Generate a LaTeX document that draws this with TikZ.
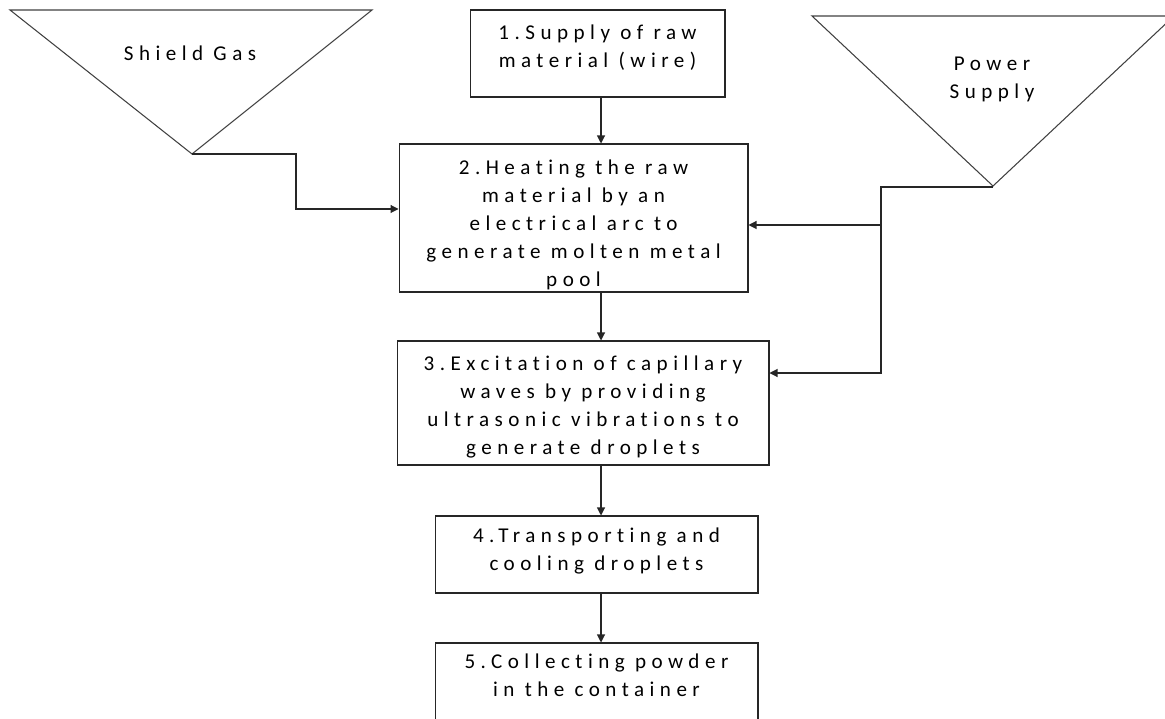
\documentclass[tikz,border=0pt]{standalone}
\usepackage{fontspec}
\newfontfamily\flowfont{Carlito}[LetterSpace=26, Ligatures={NoCommon}]
\usetikzlibrary{arrows.meta}

\begin{document}
\begin{tikzpicture}[
    % Global styles
    x=0.02cm, y=-0.02cm,
    font=\flowfont\fontsize{12}{15.9}\selectfont,
    >={Triangle[length=0.16cm, width=0.16cm]},
    % Box styles
    stepbox/.style={
      rectangle, draw=black!85, line width=0.6pt, inner sep=0pt,
      align=center
    },
    feedshape/.style={draw=black!75, line width=0.6pt, line join=miter},
    arr/.style={->, line width=0.6pt, color=black!85},
  ]
  \useasboundingbox (0,0) rectangle (1165,719);

  % ====================================================================
  % FEEDS — triangles
  % ====================================================================
  \draw[feedshape] (10,10) -- (372,10) -- (192,154) -- cycle;
  \coordinate (sgtip) at (192,154);
  \node (sgtext) at (190,53) {Shield Gas};

  \draw[feedshape] (812,16) -- (1174,16) -- (993,186) -- cycle;
  \coordinate (pstip) at (993,187);
  \node[align=center] (pstext) at (992,79) {Power\\Supply};

  % ====================================================================
  % PROCESS STEPS
  % ====================================================================
  \node[stepbox, minimum width=5.1cm, minimum height=1.74cm, text depth=0.3cm] (b1) at (597.5,53.5) {
    1.Supply of raw\\material (wire)
  };
  \node[stepbox, minimum width=6.98cm, minimum height=2.96cm] (b2) at (573.5,218) {
    \rule{0pt}{16pt}2.Heating the raw\\material by an\\electrical arc to\\generate molten metal\\pool
  };
  \node[stepbox, minimum width=7.44cm, minimum height=2.48cm] (b3) at (583,403) {
    \rule{0pt}{12.5pt}3.Excitation of capillary\\waves by providing\\ultrasonic vibrations to\\generate droplets
  };
  \node[stepbox, minimum width=6.46cm, minimum height=1.54cm, text depth=0.2cm] (b4) at (596.5,554.5) {
    4.Transporting and\\cooling droplets
  };
  \node[stepbox, minimum width=6.46cm, minimum height=1.6cm, text depth=0.3cm] (b5) at (596.5,683) {
    5.Collecting powder\\in the container
  };

  % ------- Arrows -------
  \coordinate (spine) at (601,0);
  \draw[arr] (b1.south -| spine) -- (b2.north -| spine);
  \draw[arr] (b2.south -| spine) -- (b3.north -| spine);
  \draw[arr] (b3.south -| spine) -- (b4.north -| spine);
  \draw[arr] (b4.south -| spine) -- (b5.north -| spine);

  % Shield gas feed
  \draw[arr] (sgtip) -- (296,154) |- (b2.west |- 0,209);

  % Power supply feed
  \coordinate (pjoin) at (881,225);
  \draw[arr] (pstip) -- (881,187) |- (b3.east |- 0,373);
  \draw[arr] (pjoin) -- (b2.east |- pjoin);

\end{tikzpicture}
\end{document}
